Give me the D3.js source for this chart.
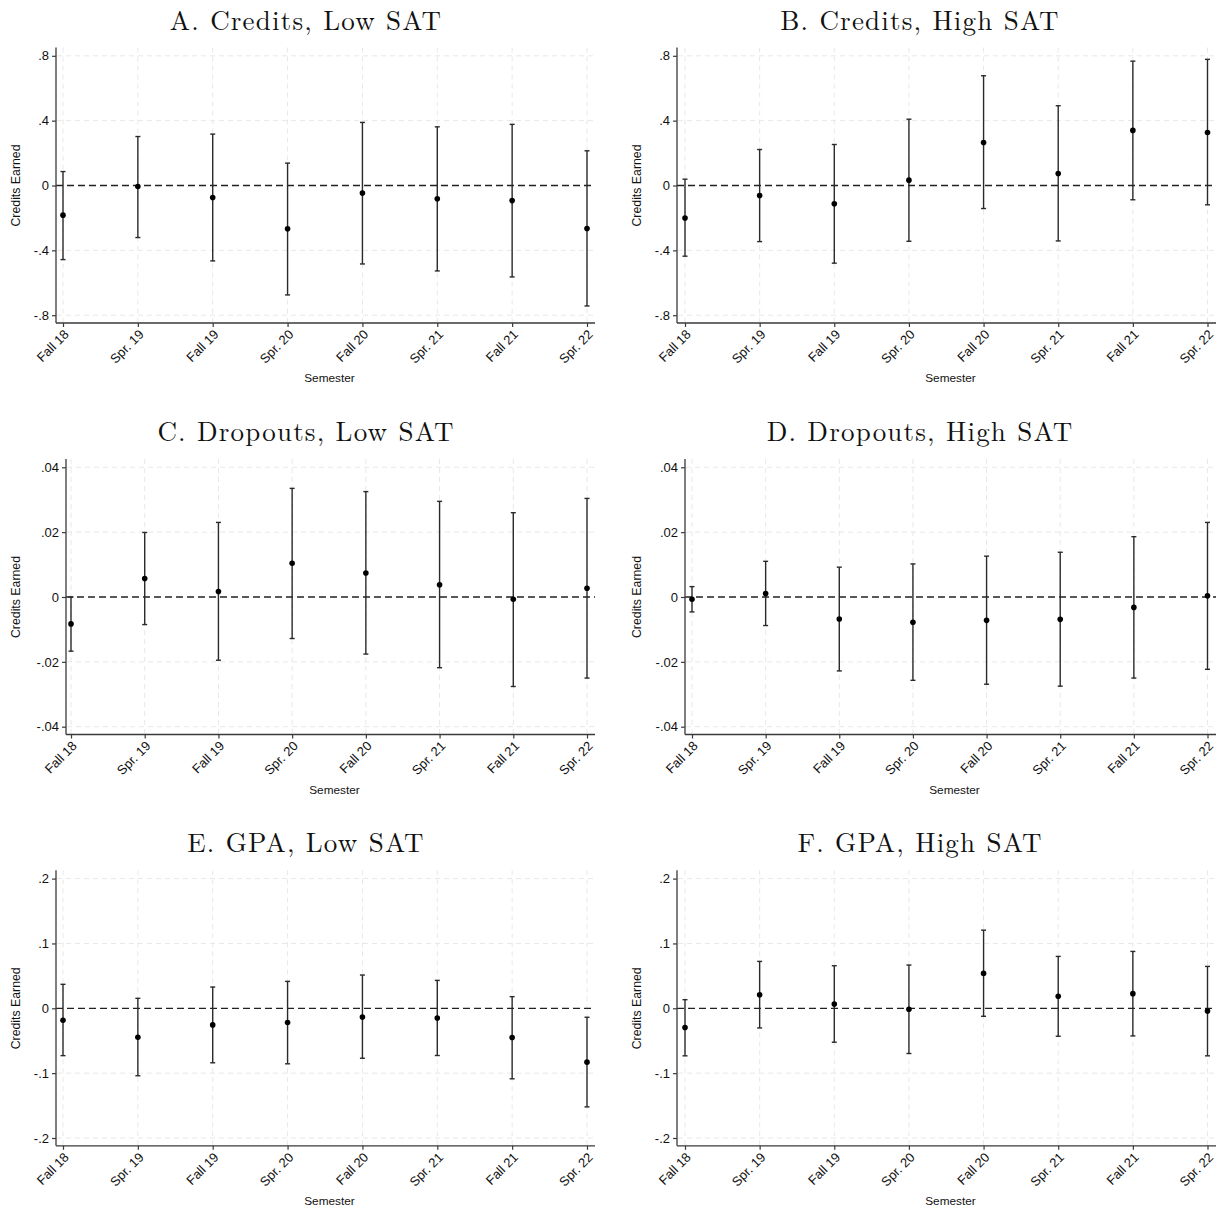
<!DOCTYPE html>
<html>
<head>
<meta charset="utf-8">
<script src="https://cdn.jsdelivr.net/npm/d3@7"></script>
<style>
  html, body { margin: 0; padding: 0; background: #fff; }
  svg { display: block; }
</style>
</head>
<body>
<svg id="chart" width="1225" height="1212"></svg>
<script>
// ---------- data ----------
const semesters = ["Fall 18", "Spr. 19", "Fall 19", "Spr. 20", "Fall 20", "Spr. 21", "Fall 21", "Spr. 22"];

const creditsTicks = [-0.8, -0.4, 0, 0.4, 0.8];
const creditsTickLabels = ["-.8", "-.4", "0", ".4", ".8"];
const dropoutTicks = [-0.04, -0.02, 0, 0.02, 0.04];
const dropoutTickLabels = ["-.04", "-.02", "0", ".02", ".04"];
const gpaTicks = [-0.2, -0.1, 0, 0.1, 0.2];
const gpaTickLabels = ["-.2", "-.1", "0", ".1", ".2"];

// A. Credits, Low SAT
const creditsLowEst = [-0.183, -0.006, -0.074, -0.267, -0.047, -0.082, -0.093, -0.265];
const creditsLowLo  = [-0.457, -0.321, -0.465, -0.675, -0.484, -0.527, -0.564, -0.743];
const creditsLowHi  = [0.086, 0.302, 0.317, 0.138, 0.389, 0.362, 0.377, 0.214];
// B. Credits, High SAT
const creditsHighEst = [-0.200, -0.062, -0.113, 0.033, 0.265, 0.074, 0.340, 0.327];
const creditsHighLo  = [-0.436, -0.346, -0.479, -0.344, -0.142, -0.342, -0.088, -0.119];
const creditsHighHi  = [0.039, 0.222, 0.253, 0.409, 0.677, 0.492, 0.767, 0.778];
// C. Dropouts, Low SAT
const dropLowEst = [-0.0083, 0.0057, 0.0017, 0.0104, 0.0074, 0.0038, -0.0007, 0.0027];
const dropLowLo  = [-0.0167, -0.0085, -0.0195, -0.0128, -0.0176, -0.0218, -0.0276, -0.0250];
const dropLowHi  = [0.0000, 0.0199, 0.0230, 0.0335, 0.0325, 0.0295, 0.0260, 0.0304];
// D. Dropouts, High SAT
const dropHighEst = [-0.0007, 0.0011, -0.0068, -0.0078, -0.0072, -0.0069, -0.0032, 0.0004];
const dropHighLo  = [-0.0046, -0.0088, -0.0228, -0.0257, -0.0269, -0.0275, -0.0250, -0.0223];
const dropHighHi  = [0.0032, 0.0110, 0.0092, 0.0102, 0.0126, 0.0138, 0.0186, 0.0230];
// E. GPA, Low SAT
const gpaLowEst = [-0.0185, -0.0446, -0.0256, -0.0220, -0.0133, -0.0149, -0.0450, -0.0830];
const gpaLowLo  = [-0.0730, -0.1040, -0.0840, -0.0856, -0.0770, -0.0728, -0.1087, -0.1520];
const gpaLowHi  = [0.0370, 0.0154, 0.0328, 0.0415, 0.0513, 0.0430, 0.0180, -0.0138];
// F. GPA, High SAT
const gpaHighEst = [-0.0297, 0.0210, 0.0067, -0.0015, 0.0538, 0.0185, 0.0226, -0.0041];
const gpaHighLo  = [-0.0733, -0.0303, -0.0523, -0.0697, -0.0123, -0.0431, -0.0426, -0.0733];
const gpaHighHi  = [0.0133, 0.0723, 0.0656, 0.0667, 0.1205, 0.0800, 0.0877, 0.0646];

const panelTitles = ["A. Credits, Low SAT", "B. Credits, High SAT", "C. Dropouts, Low SAT",
                     "D. Dropouts, High SAT", "E. GPA, Low SAT", "F. GPA, High SAT"];
const yTitle = "Credits Earned";
const xTitle = "Semester";

// ---------- layout ----------
const panels = [
  {title: panelTitles[0], est: creditsLowEst,  lo: creditsLowLo,  hi: creditsLowHi,  ticks: creditsTicks, labels: creditsTickLabels, col: 0, row: 0, axisX: 56,  firstX: 63},
  {title: panelTitles[1], est: creditsHighEst, lo: creditsHighLo, hi: creditsHighHi, ticks: creditsTicks, labels: creditsTickLabels, col: 1, row: 0, axisX: 677, firstX: 685},
  {title: panelTitles[2], est: dropLowEst,     lo: dropLowLo,     hi: dropLowHi,     ticks: dropoutTicks, labels: dropoutTickLabels, col: 0, row: 1, axisX: 66,  firstX: 71},
  {title: panelTitles[3], est: dropHighEst,    lo: dropHighLo,    hi: dropHighHi,    ticks: dropoutTicks, labels: dropoutTickLabels, col: 1, row: 1, axisX: 685, firstX: 692},
  {title: panelTitles[4], est: gpaLowEst,      lo: gpaLowLo,      hi: gpaLowHi,      ticks: gpaTicks,     labels: gpaTickLabels,     col: 0, row: 2, axisX: 56,  firstX: 63},
  {title: panelTitles[5], est: gpaHighEst,     lo: gpaHighLo,     hi: gpaHighHi,     ticks: gpaTicks,     labels: gpaTickLabels,     col: 1, row: 2, axisX: 677, firstX: 685}
];

const colRight = [595, 1216];
const colLastX = [587, 1207.5];
const colTitleX = [306, 920];
const colYTitleX = [16, 637];
const rowZero = [185.5, 597, 1008.3];
const halfRange = 129.7;   // pixels from zero to the outer tick
const topPad = 138, botPad = 137.5;

const svg = d3.select("#chart");
const sans = "'Liberation Sans', Arial, Helvetica, sans-serif";
const serif = "'Latin Modern Roman', 'Liberation Serif', 'Times New Roman', serif";
const axisColor = "#3a3a3a";
const gridColor = "#e8e8e8";

panels.forEach(p => {
  const zero = rowZero[p.row];
  const top = zero - topPad, bottom = zero + botPad;
  const right = colRight[p.col];
  const maxT = d3.max(p.ticks);
  const x = d3.scalePoint().domain(semesters).range([p.firstX, colLastX[p.col]]);
  const y = d3.scaleLinear().domain([-maxT, maxT]).range([zero + halfRange, zero - halfRange]);
  const g = svg.append("g");

  // title
  g.append("text")
    .attr("x", colTitleX[p.col]).attr("y", zero - 156)
    .attr("text-anchor", "middle")
    .attr("font-family", serif).attr("font-size", 27).attr("letter-spacing", 1.2)
    .attr("fill", "#111")
    .text(p.title);

  // grid: horizontal
  g.selectAll("line.hgrid").data(p.ticks.filter(t => t !== 0)).join("line")
    .attr("x1", p.axisX + 1).attr("x2", right)
    .attr("y1", d => y(d)).attr("y2", d => y(d))
    .attr("stroke", gridColor).attr("stroke-width", 1).attr("stroke-dasharray", "5,4");
  // grid: vertical
  g.selectAll("line.vgrid").data(semesters).join("line")
    .attr("x1", d => x(d)).attr("x2", d => x(d))
    .attr("y1", top).attr("y2", bottom)
    .attr("stroke", gridColor).attr("stroke-width", 1).attr("stroke-dasharray", "5,4");

  // zero reference line
  g.append("line")
    .attr("x1", p.axisX).attr("x2", right)
    .attr("y1", y(0)).attr("y2", y(0))
    .attr("stroke", "#222").attr("stroke-width", 1.3).attr("stroke-dasharray", "7,4");

  // y axis
  const yAxis = d3.axisLeft(y).tickValues(p.ticks).tickSize(4).tickPadding(3)
    .tickFormat((d, i) => p.labels[i]);
  const ya = g.append("g").attr("transform", `translate(${p.axisX},0)`).call(yAxis);
  ya.select(".domain").remove();
  ya.selectAll(".tick line").attr("stroke", axisColor).attr("stroke-width", 1.2);
  ya.selectAll(".tick text").attr("font-family", sans).attr("font-size", 13).attr("fill", "#111");
  g.append("line").attr("x1", p.axisX).attr("x2", p.axisX).attr("y1", top).attr("y2", bottom)
    .attr("stroke", axisColor).attr("stroke-width", 1.3);

  // x axis
  const xAxis = d3.axisBottom(x).tickSize(4).tickPadding(2);
  const xa = g.append("g").attr("transform", `translate(0,${bottom})`).call(xAxis);
  xa.select(".domain").remove();
  xa.selectAll(".tick line").attr("stroke", axisColor).attr("stroke-width", 1.2);
  xa.selectAll(".tick text")
    .attr("font-family", sans).attr("font-size", 13).attr("fill", "#111")
    .attr("text-anchor", "end")
    .attr("y", 0).attr("dy", "0.35em")
    .attr("transform", "translate(3,9) rotate(-45)");
  g.append("line").attr("x1", p.axisX).attr("x2", right).attr("y1", bottom).attr("y2", bottom)
    .attr("stroke", axisColor).attr("stroke-width", 1.3);

  // axis titles
  g.append("text")
    .attr("transform", `translate(${colYTitleX[p.col]},${zero}) rotate(-90)`)
    .attr("text-anchor", "middle").attr("dy", "0.35em")
    .attr("font-family", sans).attr("font-size", 12.3).attr("fill", "#111")
    .text(yTitle);
  g.append("text")
    .attr("x", (p.axisX + right) / 2 + 4).attr("y", bottom + 59)
    .attr("text-anchor", "middle")
    .attr("font-family", sans).attr("font-size", 11.8).attr("fill", "#111")
    .text(xTitle);

  // error bars
  const rows = semesters.map((s, i) => ({s, est: p.est[i], lo: p.lo[i], hi: p.hi[i]}));
  g.selectAll("line.bar").data(rows).join("line")
    .attr("x1", d => x(d.s)).attr("x2", d => x(d.s))
    .attr("y1", d => y(d.lo)).attr("y2", d => y(d.hi))
    .attr("stroke", "#2a2a2a").attr("stroke-width", 1.4);
  ["lo", "hi"].forEach(k => {
    g.selectAll("line.cap-" + k).data(rows).join("line")
      .attr("x1", d => x(d.s) - 2.5).attr("x2", d => x(d.s) + 2.5)
      .attr("y1", d => y(d[k])).attr("y2", d => y(d[k]))
      .attr("stroke", "#2a2a2a").attr("stroke-width", 1.4);
  });
  g.selectAll("circle.pt").data(rows).join("circle")
    .attr("cx", d => x(d.s)).attr("cy", d => y(d.est)).attr("r", 2.8)
    .attr("fill", "#000");
});
</script>
</body>
</html>
